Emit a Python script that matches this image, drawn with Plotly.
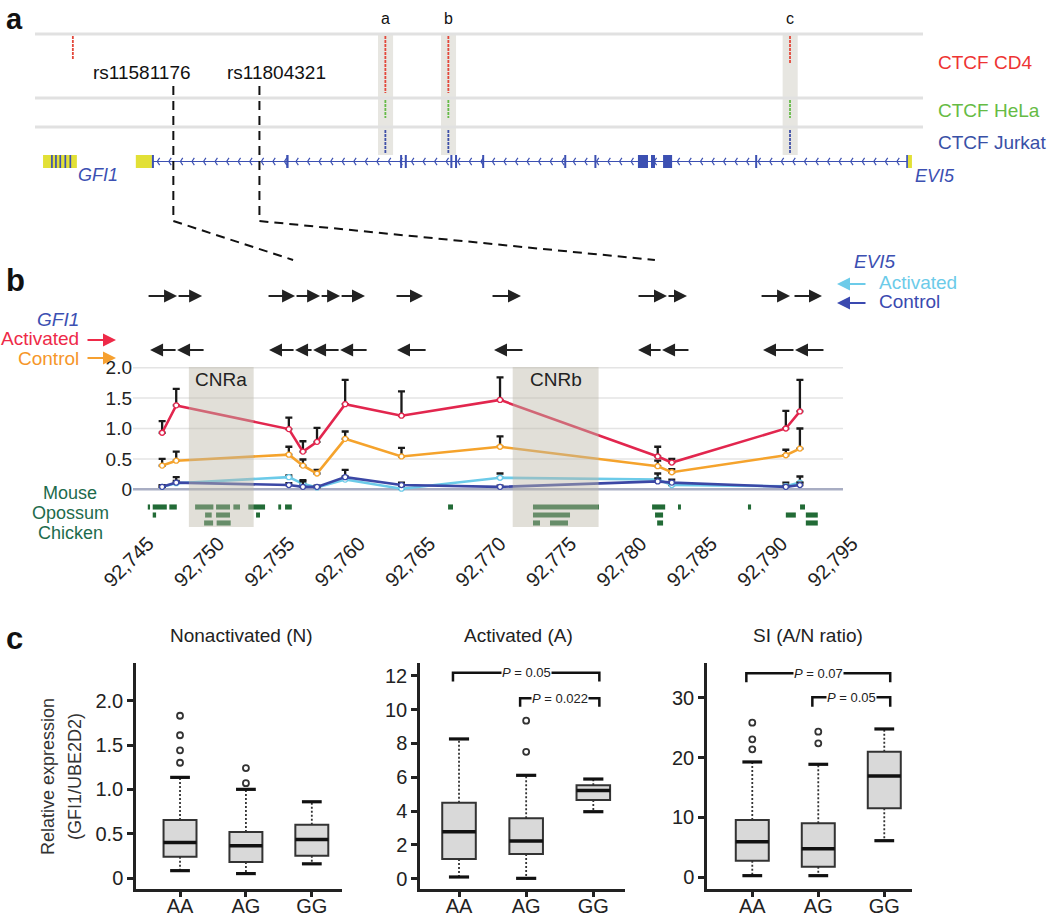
import numpy as np
import plotly.graph_objects as go

W, H = 1050, 919
FONT = "Liberation Sans, Arial, Helvetica, sans-serif"

# ======================= DATA =======================
# ---- Panel a : locus view (kb) ----
snp_names = ["rs11581176", "rs11804321"]
snp_kb = [92755.3, 92781.0]
ctcf_site_labels = ["a", "b", "c"]
ctcf_site_kb = [92818.6, 92837.4, 92939.4]
cd4_peak_kb = [92725.3, 92818.6, 92837.4, 92939.4]
cd4_peak_signal = [0.42, 1.0, 1.0, 0.48]
hela_peak_kb = [92818.6, 92837.4, 92939.4]
hela_peak_signal = [1.0, 1.0, 1.0]
jurkat_peak_kb = [92818.6, 92837.4, 92939.4]
jurkat_peak_signal = [1.0, 1.0, 1.0]
gfi1_utr_kb = [(92716.4, 92726.5)]
gfi1_exon_kb = [(92718.8, 92719.3), (92720.0, 92720.5), (92721.3, 92721.8),
                (92722.8, 92723.3), (92724.3, 92724.8)]
evi5_utr_kb = [(92744.1, 92748.9), (92974.6, 92975.8)]
evi5_exon_kb = [(92748.9, 92749.5), (92789.0, 92789.7), (92823.0, 92823.6), (92824.4, 92825.0),
                (92838.0, 92838.6), (92839.4, 92840.0), (92847.5, 92848.1), (92872.0, 92872.6),
                (92881.0, 92881.6), (92894.0, 92897.0), (92897.9, 92899.1), (92901.5, 92904.2),
                (92929.0, 92929.6), (92974.1, 92974.6)]
evi5_intron_kb = (92748.9, 92974.4)

# ---- Panel b : ChIP enrichment along the region ----
positions_kb = [92746.0, 92747.0, 92755.0, 92756.0, 92757.0, 92759.0,
                92763.0, 92770.0, 92781.2, 92782.2, 92790.3, 92791.3]
gfi1_activated = [0.93, 1.38, 0.99, 0.62, 0.78, 1.40, 1.21, 1.47, 0.54, 0.44, 1.00, 1.28]
gfi1_activated_err = [0.19, 0.27, 0.19, 0.17, 0.23, 0.40, 0.40, 0.37, 0.16, 0.06, 0.29, 0.52]
gfi1_control = [0.39, 0.47, 0.57, 0.39, 0.26, 0.83, 0.54, 0.70, 0.38, 0.28, 0.56, 0.67]
gfi1_control_err = [0.11, 0.15, 0.13, 0.10, 0.06, 0.12, 0.14, 0.17, 0.09, 0.05, 0.09, 0.33]
evi5_activated = [0.04, 0.10, 0.20, 0.09, 0.03, 0.16, 0.01, 0.19, 0.16, 0.07, 0.05, 0.11]
evi5_activated_err = [0.02, 0.04, 0.03, 0.06, 0.02, 0.05, 0.02, 0.07, 0.10, 0.03, 0.06, 0.10]
evi5_control = [0.04, 0.11, 0.07, 0.04, 0.04, 0.20, 0.07, 0.04, 0.13, 0.11, 0.04, 0.07]
evi5_control_err = [0.03, 0.09, 0.03, 0.09, 0.02, 0.12, 0.04, 0.02, 0.05, 0.05, 0.02, 0.04]
x_tick_kb = [92745, 92750, 92755, 92760, 92765, 92770, 92775, 92780, 92785, 92790, 92795]
x_tick_labels = ["92,745", "92,750", "92,755", "92,760", "92,765", "92,770",
                 "92,775", "92,780", "92,785", "92,790", "92,795"]
cnr_names = ["CNRa", "CNRb"]
cnr_start = [92747.9, 92770.9]
cnr_end = [92752.5, 92777.0]
fwd_primer_tail = [92744.93, 92747.06, 92753.45, 92755.44, 92757.22, 92758.64,
                   92762.54, 92769.36, 92779.73, 92781.86, 92788.47, 92790.81]
fwd_primer_tip = [92747.06, 92748.84, 92755.44, 92757.22, 92758.64, 92760.41,
                  92764.53, 92771.49, 92781.86, 92783.28, 92790.60, 92792.87]
rev_primer_tail = [92747.06, 92749.05, 92755.44, 92756.72, 92758.64, 92760.63,
                   92764.82, 92771.70, 92781.51, 92783.49, 92790.95, 92793.08]
rev_primer_tip = [92745.14, 92747.06, 92753.59, 92755.44, 92756.72, 92758.64,
                  92762.68, 92769.57, 92779.80, 92781.51, 92788.68, 92790.95]
species = ["Mouse", "Opossum", "Chicken"]
mouse_blocks = [(92744.98, 92745.14), (92745.33, 92746.33), (92746.51, 92747.04), (92748.34, 92749.64),
                (92749.83, 92750.82), (92751.06, 92751.53), (92752.12, 92753.31), (92754.25, 92754.45),
                (92754.73, 92755.21), (92766.31, 92766.66), (92772.34, 92777.03), (92780.80, 92781.73),
                (92782.64, 92782.85), (92787.61, 92787.83), (92791.31, 92791.66)]
opossum_blocks = [(92745.33, 92745.57), (92749.05, 92749.52), (92749.83, 92750.82), (92752.67, 92752.95),
                  (92772.34, 92774.97), (92781.01, 92781.58), (92790.30, 92791.01), (92791.72, 92792.57)]
chicken_blocks = [(92748.98, 92749.62), (92749.87, 92750.87), (92772.34, 92772.84), (92773.55, 92774.83),
                  (92781.16, 92781.58), (92791.72, 92792.57)]

# ---- Panel c : expression by genotype ----
genotypes = ["AA", "AG", "GG"]
n_q1 = [0.24, 0.18, 0.25]
n_med = [0.40, 0.365, 0.435]
n_q3 = [0.655, 0.52, 0.60]
n_low = [0.083, 0.05, 0.16]
n_high = [1.135, 1.0, 0.86]
n_outliers = [[1.83, 1.61, 1.44, 1.30], [1.24, 1.07], []]
a_q1 = [1.16, 1.46, 4.65]
a_med = [2.78, 2.23, 5.22]
a_q3 = [4.49, 3.57, 5.52]
a_low = [0.10, 0.02, 3.96]
a_high = [8.26, 6.11, 5.89]
a_outliers = [[], [9.34, 7.50], []]
s_q1 = [2.78, 1.78, 11.53]
s_med = [5.96, 4.79, 16.93]
s_q3 = [9.58, 9.02, 20.99]
s_low = [0.28, 0.28, 6.12]
s_high = [19.27, 18.88, 24.78]
s_outliers = [[25.84, 23.05, 21.38], [24.33, 22.38], []]
a_p_pairs = [(0, 2), (1, 2)]
a_p_text = ["0.05", "0.022"]
a_p_y = [(12.18, 11.65), (10.66, 10.17)]
s_p_pairs = [(0, 2), (1, 2)]
s_p_text = ["0.07", "0.05"]
s_p_y = [(34.08, 32.57), (30.07, 28.51)]

# ======================= STYLE / LAYOUT CONSTANTS =======================
RED, ORANGE, CYAN, BLUE = "#e2264e", "#f5a32c", "#6ccbe9", "#3b47a5"
GENE_BLUE, YELLOW = "#3c50b2", "#e2e036"
CONS_GREEN, LABEL_GREEN = "#226b36", "#1d6b4c"

A_DOM_PX, A_RANGE = (35, 925), [92714.0, 92979.7]
B_DOM_PX, B_RANGE = (133, 862), [92743.93, 92795.71]
B_PLOT_END = 92794.36
B_YDOM_PX, B_YRANGE = (367, 527), [-0.62, 2.011]


def PX(p):
    return p / W


def PY(p):
    return 1 - p / H


def xa_paper(kb):
    f = (kb - A_RANGE[0]) / (A_RANGE[1] - A_RANGE[0])
    return PX(A_DOM_PX[0] + f * (A_DOM_PX[1] - A_DOM_PX[0]))


def xb_paper(kb):
    f = (kb - B_RANGE[0]) / (B_RANGE[1] - B_RANGE[0])
    return PX(B_DOM_PX[0] + f * (B_DOM_PX[1] - B_DOM_PX[0]))


shapes, annos = [], []


def line(x0, y0, x1, y1, color, width, xref="paper", yref="paper", dash=None, layer="above"):
    d = dict(type="line", x0=x0, y0=y0, x1=x1, y1=y1, xref=xref, yref=yref,
             line=dict(color=color, width=width), layer=layer)
    if dash:
        d["line"]["dash"] = dash
    shapes.append(d)


def rect(x0, y0, x1, y1, color, xref, yref, layer="above"):
    shapes.append(dict(type="rect", x0=x0, y0=y0, x1=x1, y1=y1, xref=xref, yref=yref,
                       fillcolor=color, line=dict(width=0), layer=layer))


def text(x, y, s, size, color="#222", xanchor="center", yanchor="middle",
         xref="paper", yref="paper", **kw):
    annos.append(dict(x=x, y=y, text=s, xref=xref, yref=yref, xanchor=xanchor,
                      yanchor=yanchor, showarrow=False,
                      font=dict(size=size, color=color, family=FONT), **kw))


fig = go.Figure()

# ======================= PANEL a =======================
text(PX(4), PY(1), "<b>a</b>", 29, "#111", xanchor="left", yanchor="top")
for yy in [34, 98, 127]:
    line(PX(35), PY(yy), PX(923), PY(yy), "#e1e1e1", 3)
for lab, kb in zip(ctcf_site_labels, ctcf_site_kb):
    rect(kb - 2.2, 35, kb + 2.3, 155, "#e7e6e1", "x2", "y2", layer="below")
    text(kb, PY(19), lab, 16, "#111", xref="x2")
for kb, s in zip(cd4_peak_kb, cd4_peak_signal):
    line(kb, 36, kb, 36 + 57 * s, "#e3483b", 1.8, "x2", "y2", dash="3px,1px")
for kb, s in zip(hela_peak_kb, hela_peak_signal):
    line(kb, 100, kb, 100 + 18 * s, "#66bb48", 1.8, "x2", "y2", dash="3px,1px")
for kb, s in zip(jurkat_peak_kb, jurkat_peak_signal):
    line(kb, 130, kb, 130 + 23 * s, "#3f50a8", 1.8, "x2", "y2", dash="3px,1px")
text(PX(936), PY(62), "CTCF CD4", 19, "#ee3333", xanchor="left")
text(PX(936), PY(110), "CTCF HeLa", 19, "#66bb44", xanchor="left")
text(PX(936), PY(142), "CTCF Jurkat", 19, "#3950a6", xanchor="left")

# genes
for a0, a1 in gfi1_utr_kb:
    rect(a0, 155, a1, 168, YELLOW, "x2", "y2")
for a0, a1 in gfi1_exon_kb:
    rect(a0, 155, a1, 168, GENE_BLUE, "x2", "y2")
line(evi5_intron_kb[0], 161.5, evi5_intron_kb[1], 161.5, GENE_BLUE, 1.2, "x2", "y2")
for a0, a1 in evi5_utr_kb:
    rect(a0, 155, a1, 168, YELLOW, "x2", "y2")
for a0, a1 in evi5_exon_kb:
    rect(a0, 155, a1, 168, GENE_BLUE, "x2", "y2")
chev_x = np.arange(evi5_intron_kb[0] + 1.6, evi5_intron_kb[1] - 1.0, 3.45)
fig.add_trace(go.Scatter(x=chev_x, y=[161.5] * len(chev_x), xaxis="x2", yaxis="y2",
                         mode="markers", hoverinfo="skip", showlegend=False,
                         marker=dict(symbol="y-left", size=6, color=GENE_BLUE,
                                     line=dict(color=GENE_BLUE, width=1.2))))
text(PX(98), PY(175), "<i>GFI1</i>", 18, GENE_BLUE)
text(PX(935), PY(176), "<i>EVI5</i>", 18, GENE_BLUE)

# SNPs and zoom lines
for name, kb, cx in zip(snp_names, snp_kb, [141.5, 276.5]):
    text(PX(cx), PY(73), name, 19, "#111")
    line(kb, 86, kb, 221, "#111", 2, "x2", "y2", dash="9px,6px")
    line(xa_paper(kb), PY(221), xb_paper(kb), PY(260), "#111", 2, dash="9px,6px")

# ======================= PANEL b =======================
text(PX(4), PY(280), "<b>b</b>", 31, "#111", xanchor="left")
for v in [0.5, 1.0, 1.5, 2.0]:
    line(B_RANGE[0], v, B_PLOT_END, v, "#e4e4e4", 1.5, "x", "y", layer="below")
line(B_RANGE[0], 0, B_PLOT_END, 0, "#a8adc3", 2.5, "x", "y", layer="below")

row_y = [-0.291, -0.423, -0.554]
for blocks, ry in zip([mouse_blocks, opossum_blocks, chicken_blocks], row_y):
    for b0, b1 in blocks:
        rect(b0, ry - 0.042, b1, ry + 0.042, CONS_GREEN, "x", "y", layer="below")
for sp, cy in zip(species, [493, 513, 533]):
    text(PX(70), PY(cy), sp, 18, LABEL_GREEN)

for name, c0, c1 in zip(cnr_names, cnr_start, cnr_end):
    rect(c0, B_YRANGE[0], c1, B_YRANGE[1], "rgba(188,183,168,0.45)", "x", "y", layer="above")
    text((c0 + c1) / 2, 1.81, name, 19, "#222", xref="x", yref="y")

series = [
    (evi5_activated, evi5_activated_err, CYAN),
    (evi5_control, evi5_control_err, BLUE),
    (gfi1_control, gfi1_control_err, ORANGE),
    (gfi1_activated, gfi1_activated_err, RED),
]
for vals, errs, col in series:
    fig.add_trace(go.Scatter(
        x=positions_kb, y=vals, xaxis="x", yaxis="y", mode="lines+markers",
        line=dict(color=col, width=2.6),
        marker=dict(symbol="circle", size=5, color="white", line=dict(color=col, width=1.3)),
        error_y=dict(type="data", array=errs, arrayminus=[0] * len(errs), symmetric=False,
                     color="#1a1a1a", thickness=2.3, width=3.5),
        hoverinfo="skip", showlegend=False))

fig.add_trace(go.Scatter(x=[], y=[], xaxis="x", yaxis="y6", showlegend=False, hoverinfo="skip"))
for tail, tip in zip(fwd_primer_tail, fwd_primer_tip):
    annos.append(dict(x=tip, y=0.812, ax=tail, ay=0.812, xref="x", yref="y6", axref="x", ayref="y6",
                      text="", showarrow=True, arrowhead=2, arrowsize=1.3, arrowwidth=2,
                      arrowcolor="#222"))
for tail, tip in zip(rev_primer_tail, rev_primer_tip):
    annos.append(dict(x=tip, y=0.176, ax=tail, ay=0.176, xref="x", yref="y6", axref="x", ayref="y6",
                      text="", showarrow=True, arrowhead=2, arrowsize=1.3, arrowwidth=2,
                      arrowcolor="#222"))

# legends
text(PX(81), PY(319), "<i>GFI1</i>", 19, GENE_BLUE, xanchor="right")
text(PX(81), PY(339), "Activated", 19, "#ee2a48", xanchor="right")
text(PX(81), PY(358), "Control", 19, "#f6962a", xanchor="right")
for cy, col in [(340, "#ee2a48"), (358, "#f6a030")]:
    annos.append(dict(x=PX(116), y=PY(cy), xref="paper", yref="paper", ax=-30, ay=0,
                      axref="pixel", ayref="pixel", text="", showarrow=True, arrowhead=2,
                      arrowsize=1.3, arrowwidth=2, arrowcolor=col))
text(PX(875), PY(261), "<i>EVI5</i>", 19, GENE_BLUE)
text(PX(877), PY(282), "Activated", 19, "#6ccbe9", xanchor="left")
text(PX(877), PY(302), "Control", 19, "#3a49b0", xanchor="left")
for cy, col in [(284, "#6ccbe9"), (303, "#3a49b0")]:
    annos.append(dict(x=PX(837), y=PY(cy), xref="paper", yref="paper", ax=30, ay=0,
                      axref="pixel", ayref="pixel", text="", showarrow=True, arrowhead=2,
                      arrowsize=1.3, arrowwidth=2, arrowcolor=col))

# ======================= PANEL c =======================
text(PX(4), PY(638), "<b>c</b>", 31, "#111", xanchor="left")
text(PX(241), PY(635), "Nonactivated (N)", 19, "#222")
text(PX(518), PY(635), "Activated (A)", 19, "#222")
text(PX(808), PY(635), "SI (A/N ratio)", 19, "#222")
text(PX(48), PY(777), "Relative expression", 18, "#333", textangle=-90)
text(PX(75), PY(777), "(GFI1/UBE2D2)", 18, "#333", textangle=-90)

panels = [
    ("x3", "y3", n_q1, n_med, n_q3, n_low, n_high, n_outliers),
    ("x4", "y4", a_q1, a_med, a_q3, a_low, a_high, a_outliers),
    ("x5", "y5", s_q1, s_med, s_q3, s_low, s_high, s_outliers),
]
for xa, ya, q1, med, q3, lo, hi, outs in panels:
    for i in range(len(genotypes)):
        fig.add_trace(go.Scatter(x=[i, i, None, i, i], y=[q3[i], hi[i], None, q1[i], lo[i]],
                                 xaxis=xa, yaxis=ya, mode="lines", hoverinfo="skip",
                                 showlegend=False,
                                 line=dict(color="#333", width=1.8, dash="2px,2px")))
        fig.add_trace(go.Box(x=[i], q1=[q1[i]], median=[med[i]], q3=[q3[i]],
                             lowerfence=[q1[i]], upperfence=[q3[i]], xaxis=xa, yaxis=ya,
                             width=0.5, whiskerwidth=0, fillcolor="#d9d9d9",
                             line=dict(color="#333", width=2), boxpoints=False,
                             hoverinfo="skip", showlegend=False))
        fig.add_trace(go.Scatter(x=[i - 0.25, i + 0.25], y=[med[i], med[i]], xaxis=xa, yaxis=ya,
                                 mode="lines", line=dict(color="#111", width=3.5),
                                 hoverinfo="skip", showlegend=False))
        fig.add_trace(go.Scatter(x=[i - 0.15, i + 0.15, None, i - 0.15, i + 0.15],
                                 y=[hi[i], hi[i], None, lo[i], lo[i]], xaxis=xa, yaxis=ya,
                                 mode="lines", line=dict(color="#111", width=3.2),
                                 hoverinfo="skip", showlegend=False))
        if outs[i]:
            fig.add_trace(go.Scatter(x=[i] * len(outs[i]), y=outs[i], xaxis=xa, yaxis=ya,
                                     mode="markers", hoverinfo="skip", showlegend=False,
                                     marker=dict(size=6, color="white",
                                                 line=dict(color="#333", width=1.8))))

for xa, ya, pairs, ptxt, py in [("x4", "y4", a_p_pairs, a_p_text, a_p_y),
                                ("x5", "y5", s_p_pairs, s_p_text, s_p_y)]:
    for (g0, g1), t, (top, bot) in zip(pairs, ptxt, py):
        l, r = g0 - 0.09, g1 + 0.09
        fig.add_trace(go.Scatter(x=[l, l, r, r], y=[bot, top, top, bot], xaxis=xa, yaxis=ya,
                                 mode="lines", line=dict(color="#111", width=2.5),
                                 hoverinfo="skip", showlegend=False))
        text((l + r) / 2, top, "<i>P</i> = " + t, 13, "#222", xref=xa, yref=ya,
             bgcolor="white", borderpad=0)


def c_axes(xdom, xrange, yrange, tv, tt, xanchor, yanchor):
    ax = dict(domain=[PX(xdom[0]), PX(xdom[1])], range=xrange, anchor=yanchor, type="linear",
              tickvals=[0, 1, 2], ticktext=genotypes, ticks="outside", ticklen=5, tickwidth=2.5,
              tickcolor="#222", showline=True, linewidth=2.5, linecolor="#222",
              tickfont=dict(size=20, color="#222"), showgrid=False, zeroline=False,
              automargin=False, ticklabelstandoff=-8)
    ay = dict(domain=[PY(889), PY(663)], range=yrange, anchor=xanchor, tickvals=tv, ticktext=tt,
              ticks="outside", ticklen=6, tickwidth=2.5, tickcolor="#222", showline=True,
              linewidth=2.5, linecolor="#222", tickfont=dict(size=20, color="#222"),
              showgrid=False, zeroline=False, automargin=False)
    return ax, ay


xa3, ya3 = c_axes((136, 342), [-0.668, 2.458], [-0.124, 2.425], [0, 0.5, 1, 1.5, 2],
                  ["0", "0.5", "1.0", "1.5", "2.0"], "x3", "y3")
xa4, ya4 = c_axes((420, 625), [-0.581, 2.472], [-0.61, 12.75], [0, 2, 4, 6, 8, 10, 12],
                  ["0", "2", "4", "6", "8", "10", "12"], "x4", "y4")
xa5, ya5 = c_axes((707, 912), [-0.686, 2.42], [-1.95, 35.8], [0, 10, 20, 30],
                  ["0", "10", "20", "30"], "x5", "y5")

fig.update_layout(
    width=W, height=H, margin=dict(l=0, r=0, t=0, b=0, pad=0, autoexpand=False),
    paper_bgcolor="white", plot_bgcolor="rgba(0,0,0,0)",
    font=dict(family=FONT, color="#222"), showlegend=False,
    xaxis=dict(domain=[PX(B_DOM_PX[0]), PX(B_DOM_PX[1])], range=B_RANGE, anchor="y",
               tickvals=x_tick_kb, ticktext=x_tick_labels, tickangle=-45,
               tickfont=dict(size=20, color="#222"), showgrid=False, zeroline=False,
               showline=False, ticks="", automargin=False),
    yaxis=dict(domain=[PY(B_YDOM_PX[1]), PY(B_YDOM_PX[0])], range=B_YRANGE, anchor="x",
               tickvals=[0, 0.5, 1, 1.5, 2], ticktext=["0", "0.5", "1.0", "1.5", "2.0"],
               tickfont=dict(size=19, color="#222"), showgrid=False, zeroline=False, ticks="",
               automargin=False),
    yaxis6=dict(domain=[PY(365), PY(280)], range=[0, 1], anchor="x", visible=False,
                automargin=False),
    xaxis2=dict(domain=[PX(A_DOM_PX[0]), PX(A_DOM_PX[1])], range=A_RANGE, anchor="y2",
                visible=False, automargin=False),
    yaxis2=dict(domain=[PY(230), PY(0)], range=[230, 0], anchor="x2", visible=False,
                automargin=False),
    xaxis3=xa3, yaxis3=ya3, xaxis4=xa4, yaxis4=ya4, xaxis5=xa5, yaxis5=ya5,
    shapes=shapes, annotations=annos,
)

fig.write_html("out.html", config={"displayModeBar": False},
               post_script="document.body.style.margin='0px';")
